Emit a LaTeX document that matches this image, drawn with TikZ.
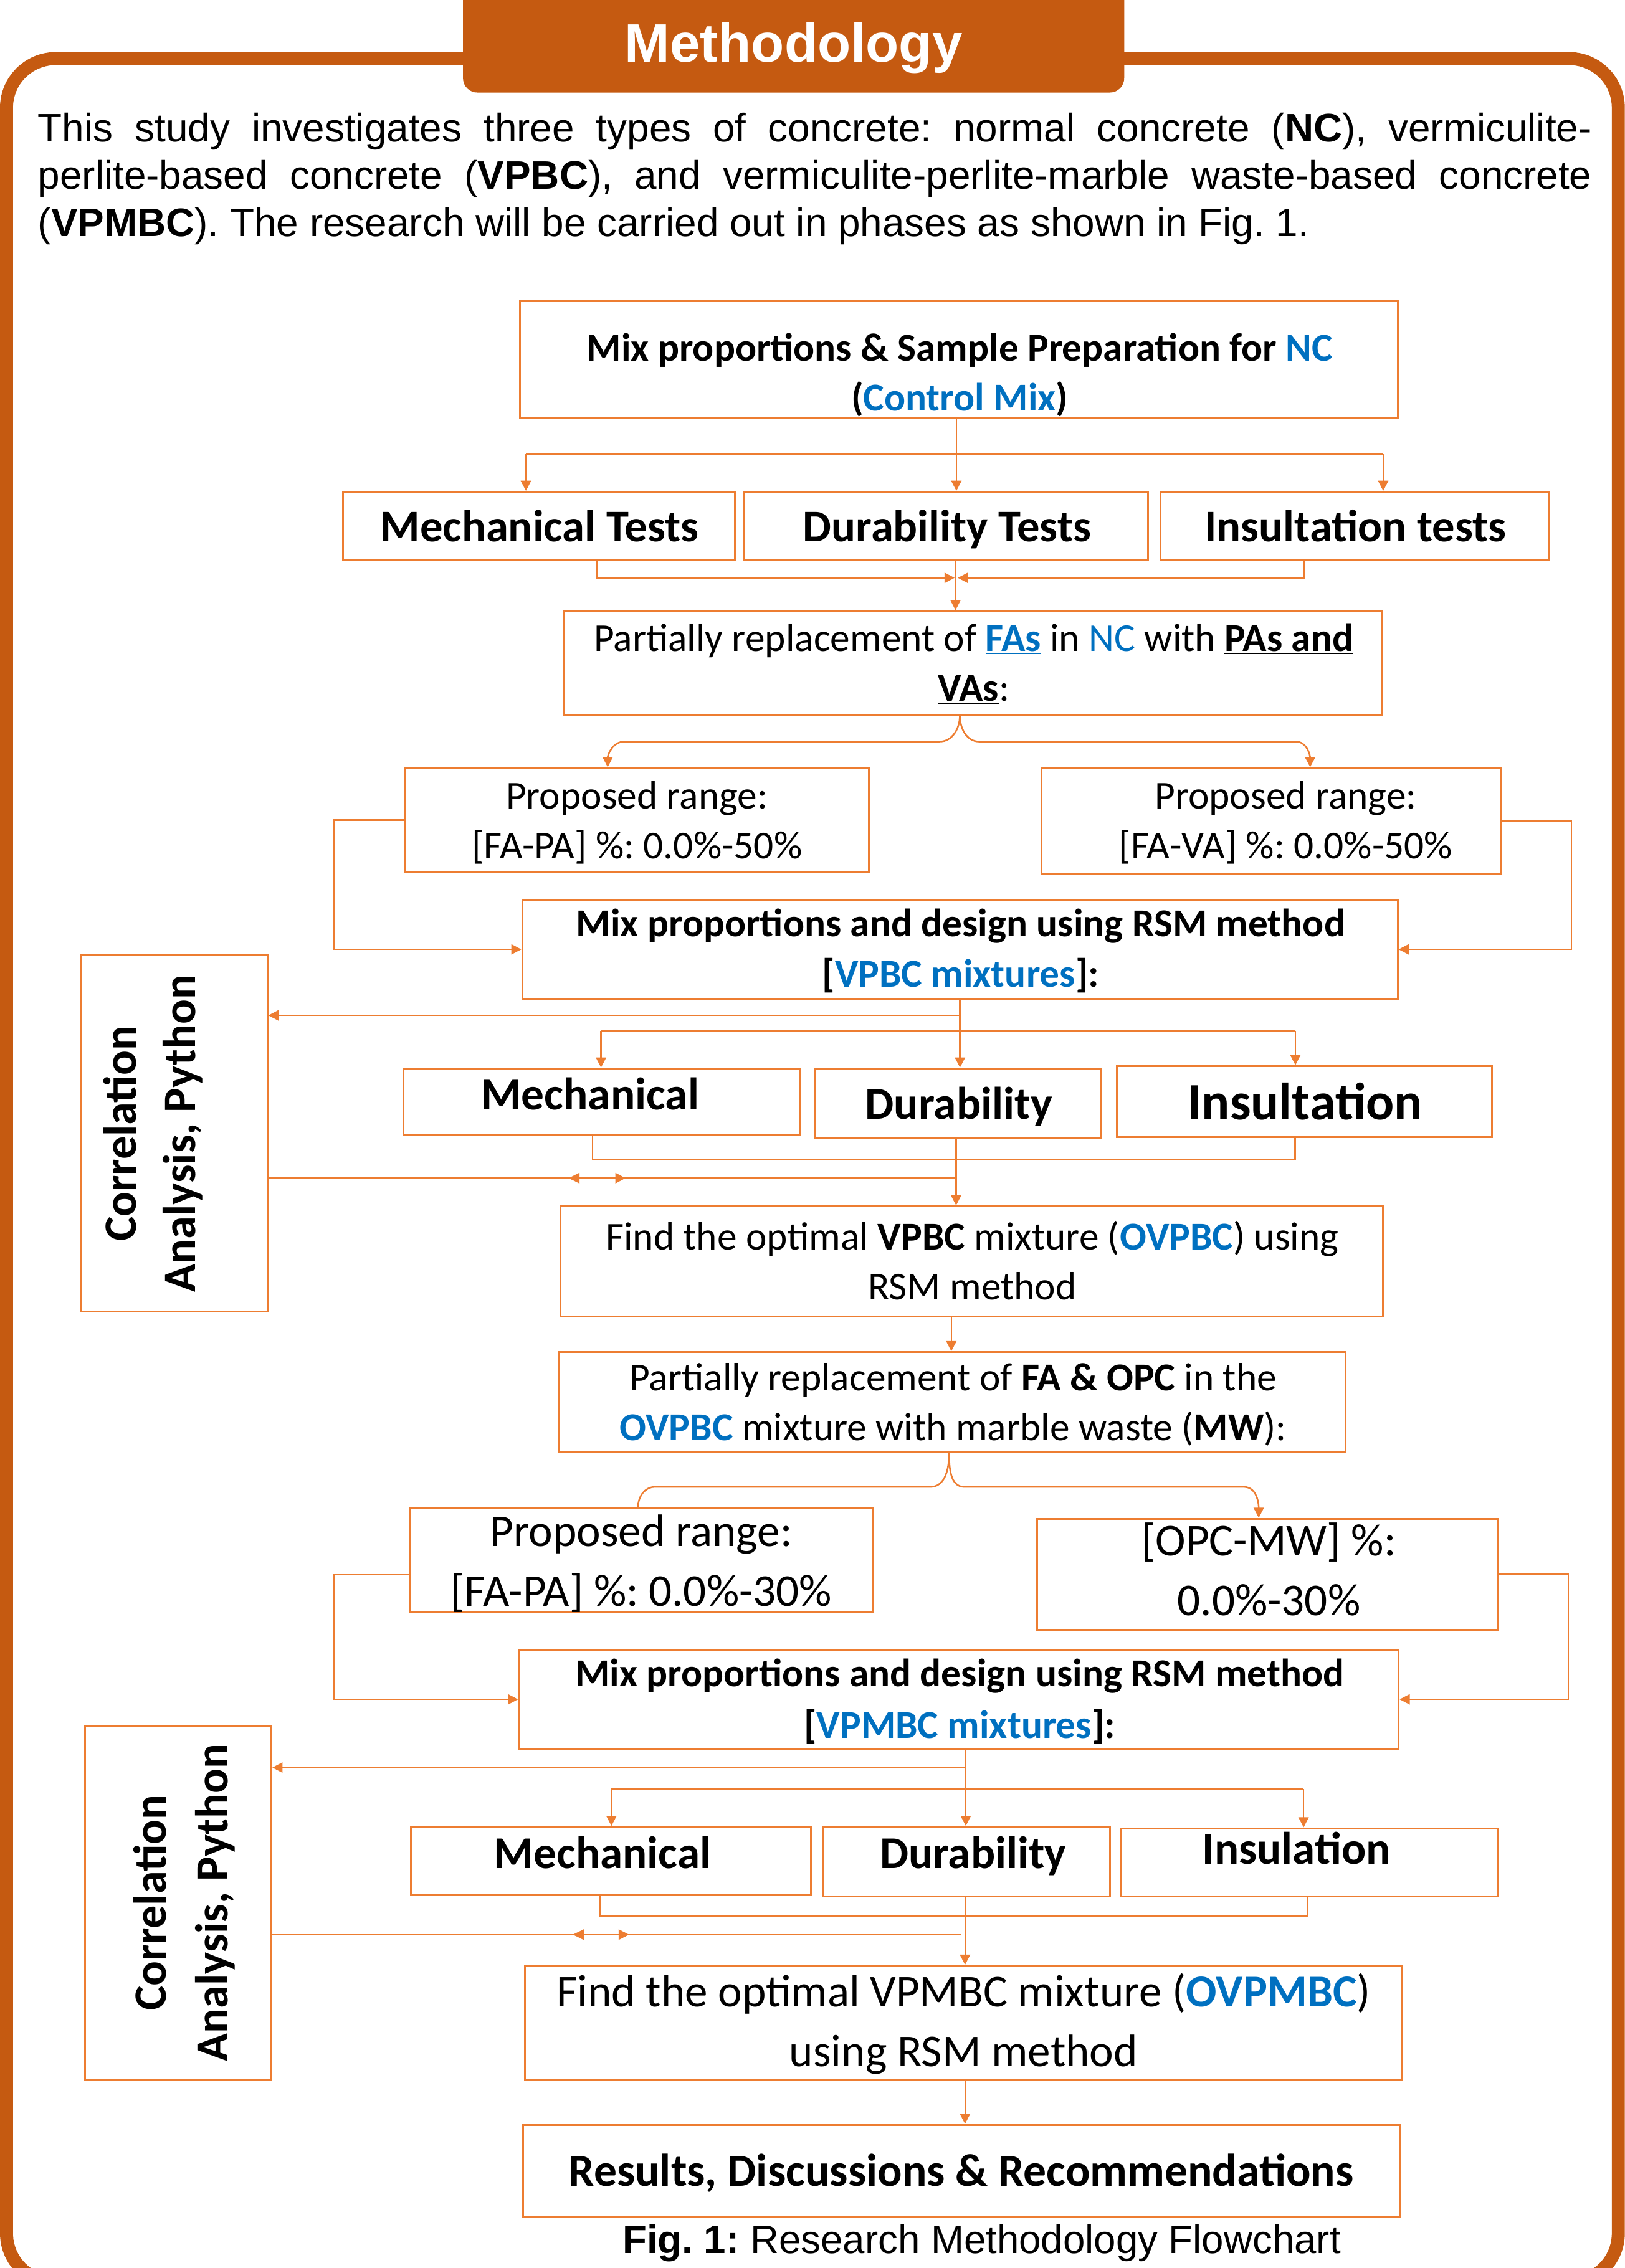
\documentclass[tikz,border=0pt]{standalone}
\usepackage{fontspec}
\setmainfont{Carlito}
\newfontfamily\arialf{Liberation Sans}
\usetikzlibrary{arrows.meta}
\definecolor{frameC}{HTML}{C55A11}
\definecolor{lineC}{HTML}{ED7D31}
\definecolor{blueC}{HTML}{0070C0}
\newcommand{\bl}[1]{\textcolor{blueC}{#1}}
\begin{document}
\frenchspacing
\begin{tikzpicture}[x=1pt,y=-1pt,
  every node/.append style={execute at begin node={\spaceskip=0pt\xspaceskip=0pt\frenchspacing}},
  bx/.style 2 args={draw=lineC, line width=1.3pt, inner sep=0pt, minimum width=#1, minimum height=#2},
  conn/.style={draw=lineC, line width=1.1pt},
  arr/.style={conn, -{Triangle[length=7pt,width=7pt]}},
  tA/.style={anchor=base, inner sep=0pt, text width=720pt, align=flush center, font=\fontsize{27.3}{34.5}\selectfont},
  tB/.style={anchor=base, inner sep=0pt, text width=720pt, align=flush center, font=\fontsize{31.5}{41.3}\selectfont},
  tri/.style={fill=lineC, draw=none}
]
\useasboundingbox (0,0) rectangle (1123,1568);
\clip (0,0) rectangle (1123,1568);
% outer frame and title tab
\draw[frameC, line width=9pt, rounded corners=34pt] (4.5,40.5) rectangle (1118.5,1578);
\fill[frameC, rounded corners=10pt] (320,-12) rectangle (777,64);
\node[anchor=base, inner sep=0pt, text=white, font=\arialf\bfseries\fontsize{37.5}{40}\selectfont] (ttl) at (548.5,43) {Methodology};
% intro paragraph
\node[anchor=base west, inner sep=0pt, text width=1074pt, align=justify, font=\arialf\fontsize{27.5}{32.75}\selectfont] (para) at (26,98)
 {\makebox[1074pt][s]{This study investigates three types of concrete: normal concrete (\textbf{NC}), vermiculite-}\\
  \makebox[1074pt][s]{perlite-based concrete (\textbf{VPBC}), and vermiculite-perlite-marble waste-based concrete}\\
  (\textbf{VPMBC}). The research will be carried out in phases as shown in Fig. 1.};

% ---------- boxes ----------
\node[bx={606.5pt}{81pt}] (b1) at (662.75,248.5) {};
\node[bx={271pt}{47pt}] (m1) at (372.5,363.5) {};
\node[bx={279.6pt}{47pt}] (d1) at (653.8,363.5) {};
\node[bx={268.5pt}{47pt}] (i1) at (936.25,363.5) {};
\node[bx={565pt}{71.5pt}] (b3) at (672.5,458.25) {};
\node[bx={320.5pt}{72pt}] (pl1) at (440.25,567) {};
\node[bx={317pt}{73.5pt}] (pr1) at (878.5,567.75) {};
\node[bx={605pt}{68.7pt}] (mx1) at (663.5,656.35) {};
\node[bx={128.9pt}{246.3pt}] (corr1) at (120.35,783.75) {};
\node[bx={274pt}{46.3pt}] (m2) at (416,761.85) {};
\node[bx={197.6pt}{48.3pt}] (d2) at (661.8,762.85) {};
\node[bx={259pt}{49pt}] (i2) at (901.5,761.5) {};
\node[bx={568.5pt}{76pt}] (f1) at (671.75,872) {};
\node[bx={543.5pt}{69.2pt}] (b13) at (658.25,969.4) {};
\node[bx={320pt}{72.3pt}] (pl2) at (443,1078.65) {};
\node[bx={318.8pt}{76.6pt}] (pr2) at (876.1,1088.3) {};
\node[bx={608pt}{68.3pt}] (mx2) at (662.7,1174.85) {};
\node[bx={128.9pt}{244.8pt}] (corr2) at (123.15,1315.4) {};
\node[bx={276.7pt}{47pt}] (m3) at (422.35,1286.5) {};
\node[bx={198pt}{48pt}] (d3) at (668,1287) {};
\node[bx={260.4pt}{47pt}] (i3) at (904.8,1287.5) {};
\node[bx={606pt}{78.8pt}] (f2) at (666,1398.4) {};
\node[bx={606.5pt}{64pt}] (res) at (664.75,1501) {};

% ---------- texts ----------
\node[tA, font=\bfseries\fontsize{27.3}{34.5}\selectfont] (tb1) at (663.3,249.5) {Mix proportions \& Sample Preparation for \bl{NC}\\(\bl{Control Mix})};
\node[tA, font=\bfseries\fontsize{31.3}{38}\selectfont] (tm1) at (373,374.4) {Mechanical Tests};
\node[tA, font=\bfseries\fontsize{31.3}{38}\selectfont] (td1) at (654.6,374.4) {Durability Tests};
\node[tA, font=\bfseries\fontsize{31.3}{38}\selectfont] (ti1) at (936.8,374.4) {Insultation tests};
\node[tA] (tb3) at (673,450.4) {Partially replacement of \textcolor{blueC}{\underline{\textbf{FAs}}} in \bl{NC} with \underline{\textbf{PAs and}}\\\underline{\textbf{VAs}}:};
\node[tA] (tpl1) at (440.2,559.3) {Proposed range:\\{}[FA-PA] \%: 0.0\%-50\%};
\node[tA] (tpr1) at (888.6,559.3) {Proposed range:\\{}[FA-VA] \%: 0.0\%-50\%};
\node[tA, font=\bfseries\fontsize{27.3}{35}\selectfont] (tmx1) at (664,647.5) {Mix proportions and design using RSM method\\{}[\bl{VPBC mixtures}]:};
\node[anchor=base, rotate=90, inner sep=0pt, text width=260pt, align=flush center, font=\bfseries\fontsize{32}{41}\selectfont] (tc1) at (94,783.7) {Correlation\\Analysis, Python};
\node[tA, font=\bfseries\fontsize{31.6}{38}\selectfont] (tm2) at (408,767.3) {Mechanical};
\node[tA, font=\bfseries\fontsize{31.6}{38}\selectfont] (td2) at (662.6,773.7) {Durability};
\node[tA, font=\bfseries\fontsize{36.3}{42}\selectfont] (ti2) at (902,774.2) {Insultation};
\node[tA] (tf1) at (672,864) {Find the optimal \textbf{VPBC} mixture (\textbf{\bl{OVPBC}}) using\\RSM method};
\node[tA] (tb13) at (658.8,961.3) {Partially replacement of \textbf{FA \& OPC} in the\\\textbf{\bl{OVPBC}} mixture with marble waste (\textbf{MW}):};
\node[tB] (tpl2) at (443.2,1069) {Proposed range:\\{}[FA-PA] \%: 0.0\%-30\%};
\node[tB] (tpr2) at (877,1075.6) {[OPC-MW] \%:\\0.0\%-30\%};
\node[tA, font=\bfseries\fontsize{27.3}{35.6}\selectfont] (tmx2) at (663.3,1166) {Mix proportions and design using RSM method\\{}[\bl{VPMBC mixtures}]:};
\node[anchor=base, rotate=90, inner sep=0pt, text width=260pt, align=flush center, font=\bfseries\fontsize{32}{43}\selectfont] (tc2) at (114.6,1315.4) {Correlation\\Analysis, Python};
\node[tA, font=\bfseries\fontsize{31.5}{38}\selectfont] (tm3) at (416.4,1291.8) {Mechanical};
\node[tA, font=\bfseries\fontsize{31.5}{38}\selectfont] (td3) at (672.5,1291.8) {Durability};
\node[tA, font=\bfseries\fontsize{31.5}{38}\selectfont] (ti3) at (896,1288.7) {Insulation};
\node[tB] (tf2) at (666,1387.4) {Find the optimal VPMBC mixture (\textbf{\bl{OVPMBC}})\\using RSM method};
\node[tB, font=\bfseries\fontsize{31.7}{38}\selectfont] (tres) at (664.3,1511.4) {Results, Discussions \& Recommendations};
\node[anchor=base, inner sep=0pt, font=\arialf\fontsize{27.4}{30}\selectfont] (cap) at (678.5,1558) {\textbf{Fig. 1:} Research Methodology Flowchart};

% ---------- connectors: phase 1 ----------
\coordinate (bL1) at (363.5,314);
\coordinate (bR1) at (956,314);
\draw[arr] ([xshift=-1.75pt]b1.south) -- ([xshift=-1.75pt]b1.south |- d1.north);
\draw[conn] (bL1) -- (bR1);
\draw[arr] (bL1) -- (bL1 |- m1.north);
\draw[arr] (bR1) -- (bR1 |- i1.north);
\coordinate (mL1) at (659.8,399.5);
\coordinate (mR1) at (662,399.5);
\draw[arr] ([xshift=40pt]m1.south) |- (mL1);
\draw[arr] ([xshift=-34.75pt]i1.south) |- (mR1);
\draw[arr] ([xshift=6.6pt]d1.south) -- ([xshift=6.6pt]d1.south |- b3.north);
% brace 1
\draw[arr] ([xshift=-9.1pt]b3.south) to[out=-90,in=0] (649.4,512.7) -- (431.5,512.7) to[out=180,in=90] ([xshift=-20.25pt]pl1.north);
\draw[arr] ([xshift=-9.1pt]b3.south) to[out=-90,in=180] (676.8,512.7) -- (895.6,512.7) to[out=0,in=90] ([xshift=27pt]pr1.north);
\draw[arr] (pl1.west) -- (231,567) |- (mx1.west);
\draw[arr] (pr1.east) -- (1086,567.75) |- (mx1.east);
% phase 1 tests
\coordinate (j2) at (663.5,702);
\coordinate (bL2) at (415.4,712.6);
\coordinate (bR2) at (895.3,712.6);
\draw[conn] (mx1.south) -- (j2);
\draw[arr] (j2) -- (j2 -| corr1.east);
\draw[arr] (j2) -- (j2 |- d2.north);
\draw[conn] (bL2) -- (bR2);
\draw[arr] (bL2) -- (bL2 |- m2.north);
\draw[arr] (bR2) -- (bR2 |- i2.north);
\coordinate (k2) at (895,801.6);
\draw[conn] ([xshift=-6.5pt]m2.south) |- (k2) -- (k2 |- i2.south);
\draw[arr] ([xshift=-1pt]d2.south) -- ([xshift=-1pt]d2.south |- f1.north);
\coordinate (c2) at (661,814.5);
\draw[conn] (c2) -- (c2 -| corr1.east);
\fill[tri] (393,814.5) -- (400.5,810.8) -- (400.5,818.2) -- cycle;
\fill[tri] (432.3,814.5) -- (425.3,810.8) -- (425.3,818.2) -- cycle;
\draw[arr] ([xshift=-14.25pt]f1.south) -- ([xshift=-14.25pt]f1.south |- b13.north);
% brace 2
\draw[conn] ([xshift=-2.25pt]b13.south) to[out=-90,in=0] (643,1028) -- (452.6,1028) to[out=180,in=90] ([xshift=-2pt]pl2.north);
\draw[arr] ([xshift=-2.25pt]b13.south) to[out=-90,in=180] (666.6,1028) -- (859.7,1028) to[out=0,in=90] ([xshift=-6.1pt]pr2.north);
\draw[arr] ([yshift=-10pt]pl2.west) -- (231,1088.65) |- (mx2.west);
\draw[arr] (pr2.east) -- (1084,1088.3) |- (mx2.east);
% phase 2 tests
\coordinate (j3) at (667.5,1222);
\coordinate (bL3) at (422.6,1237);
\coordinate (bR3) at (901,1237);
\draw[conn] ([xshift=4.8pt]mx2.south) -- (j3);
\draw[arr] (j3) -- (j3 -| corr2.east);
\draw[arr] (j3) -- (j3 |- d3.north);
\draw[conn] (bL3) -- (bR3);
\draw[arr] (bL3) -- (bL3 |- m3.north);
\draw[arr] (bR3) -- (bR3 |- i3.north);
\coordinate (k3) at (903.7,1325);
\draw[conn] ([xshift=-7.35pt]m3.south) |- (k3) -- (k3 |- i3.south);
\draw[arr] ([xshift=-1pt]d3.south) -- ([xshift=-1pt]d3.south |- f2.north);
\coordinate (c3) at (664.6,1337.5);
\draw[conn] (c3) -- (c3 -| corr2.east);
\fill[tri] (396,1337.5) -- (403.5,1333.8) -- (403.5,1341.2) -- cycle;
\fill[tri] (434.7,1337.5) -- (427.6,1333.8) -- (427.6,1341.2) -- cycle;
\draw[arr] ([xshift=1pt]f2.south) -- ([xshift=1pt]f2.south |- res.north);
\end{tikzpicture}
\end{document}
